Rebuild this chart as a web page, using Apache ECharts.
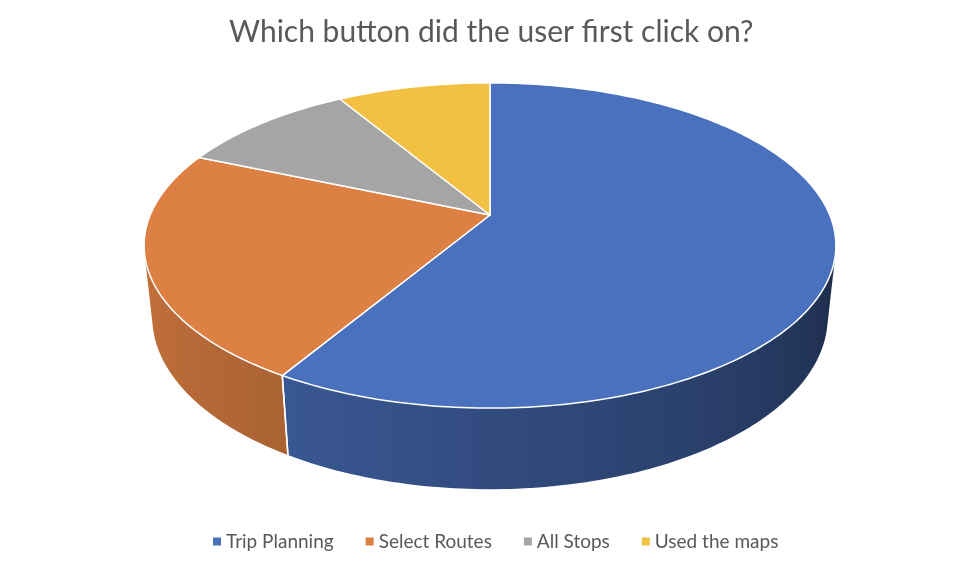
<!DOCTYPE html>
<html><head><meta charset="utf-8">
<script src="https://cdn.jsdelivr.net/npm/echarts/dist/echarts.min.js"></script>
<style>html,body{margin:0;padding:0;background:#fff}#c{width:962px;height:574px}</style>
</head><body><div id="c"></div>
<script>
// ---- data ----
const titleText = 'Which button did the user first click on?';
const categories = ['Trip Planning', 'Select Routes', 'All Stops', 'Used the maps'];
const values = [41, 16, 7, 6];
const topColors = ['#4A71BE', '#DD8043', '#A5A5A5', '#F2C043'];

// ---- 3D view (style) ----
const VIEW = { cx: 490, cy: 215, f: 1606, D: 4.727, alpha: 27.5 * Math.PI / 180, h: 0.24 };
const SA = Math.sin(VIEW.alpha), CA = Math.cos(VIEW.alpha);
function projXYZ(x, y, z) {
  const depth = VIEW.D + y * CA - z * SA;
  const up = y * SA + z * CA;
  return [VIEW.cx + VIEW.f * x / depth, VIEW.cy - VIEW.f * up / depth];
}
function proj(thetaDeg, z) {
  const t = thetaDeg * Math.PI / 180;
  return projXYZ(Math.sin(t), Math.cos(t), z);
}
const TH1 = Math.acos(-1 / (VIEW.D * CA)) * 180 / Math.PI;
const TH2 = 360 - TH1;
const shadePts = [[100, 0.38], [150, 0.57], [210, 0.77], [260, 0.89]];
function factor(t) {
  if (t <= shadePts[0][0]) return shadePts[0][1];
  for (let i = 1; i < shadePts.length; i++) {
    if (t <= shadePts[i][0]) {
      const [a, fa] = shadePts[i - 1], [b, fb] = shadePts[i];
      return fa + (fb - fa) * (t - a) / (b - a);
    }
  }
  return shadePts[shadePts.length - 1][1];
}
function shade(hex, f) {
  const n = parseInt(hex.slice(1), 16);
  const r = Math.round(((n >> 16) & 255) * f), g = Math.round(((n >> 8) & 255) * f), b = Math.round((n & 255) * f);
  return 'rgb(' + r + ',' + g + ',' + b + ')';
}

const total = values.reduce((a, b) => a + b, 0);
const starts = [];
let acc = 0;
values.forEach(v => { starts.push(acc / total * 360); acc += v; });

function makeRender(i) {
  return function (params, api) {
    const v = api.value(0);
    const s = starts[i], e = s + v / total * 360;
    const children = [];
    const a = Math.max(s, TH1), b = Math.min(e, TH2);
    if (b > a) {
      const n = Math.max(2, Math.ceil(b - a));
      const topArc = [], botArc = [];
      for (let k = 0; k <= n; k++) {
        const t = a + (b - a) * k / n;
        topArc.push(proj(t, 0));
        botArc.push(proj(t, -VIEW.h));
      }
      const pts = topArc.concat(botArc.reverse());
      const xs = pts.map(p => p[0]);
      const xmin = Math.min.apply(null, xs), xmax = Math.max.apply(null, xs);
      const stops = [];
      const ns = 12;
      for (let k = 0; k <= ns; k++) {
        const t = a + (b - a) * k / ns;
        const px = proj(t, -VIEW.h / 2)[0];
        const off = xmax > xmin ? (px - xmin) / (xmax - xmin) : 0;
        stops.push({ offset: Math.min(1, Math.max(0, off)), color: shade(topColors[i], factor(t)) });
      }
      stops.sort((p, q) => p.offset - q.offset);
      children.push({
        type: 'polygon',
        shape: { points: pts },
        style: { fill: new echarts.graphic.LinearGradient(xmin, 0, xmax, 0, stops, true) },
        z2: 1
      });
      [s, e].forEach(t => {
        if (t > TH1 && t < TH2) {
          const p0 = proj(t, 0), p1 = proj(t, -VIEW.h);
          children.push({
            type: 'line',
            shape: { x1: p0[0], y1: p0[1], x2: p1[0], y2: p1[1] },
            style: { stroke: '#ffffff', lineWidth: 1.5 },
            z2: 5
          });
        }
      });
    }
    const pts = [projXYZ(0, 0, 0)];
    const m = Math.max(2, Math.ceil(e - s));
    for (let k = 0; k <= m; k++) pts.push(proj(s + (e - s) * k / m, 0));
    children.push({
      type: 'polygon',
      shape: { points: pts },
      style: { fill: topColors[i], stroke: '#ffffff', lineWidth: 1.5, lineJoin: 'round' },
      z2: 10
    });
    return { type: 'group', children: children };
  };
}

const chart = echarts.init(document.getElementById('c'), null, { renderer: 'canvas' });
chart.setOption({
  backgroundColor: '#ffffff',
  animation: false,
  color: topColors,
  title: {
    text: titleText,
    left: 224,
    top: 12,
    textStyle: { fontFamily: 'Lato', fontSize: 30, fontWeight: 'normal', color: '#595959' }
  },
  legend: {
    data: categories,
    left: 208,
    top: 527,
    icon: 'rect',
    itemWidth: 8,
    itemHeight: 8,
    itemGap: 32,
    textStyle: { fontFamily: 'Lato', fontSize: 19, color: '#595959' }
  },
  series: categories.map((name, i) => ({
    type: 'custom',
    name: name,
    coordinateSystem: 'none',
    itemStyle: { color: topColors[i] },
    renderItem: makeRender(i),
    data: [[values[i]]]
  }))
});
</script>
</body></html>
